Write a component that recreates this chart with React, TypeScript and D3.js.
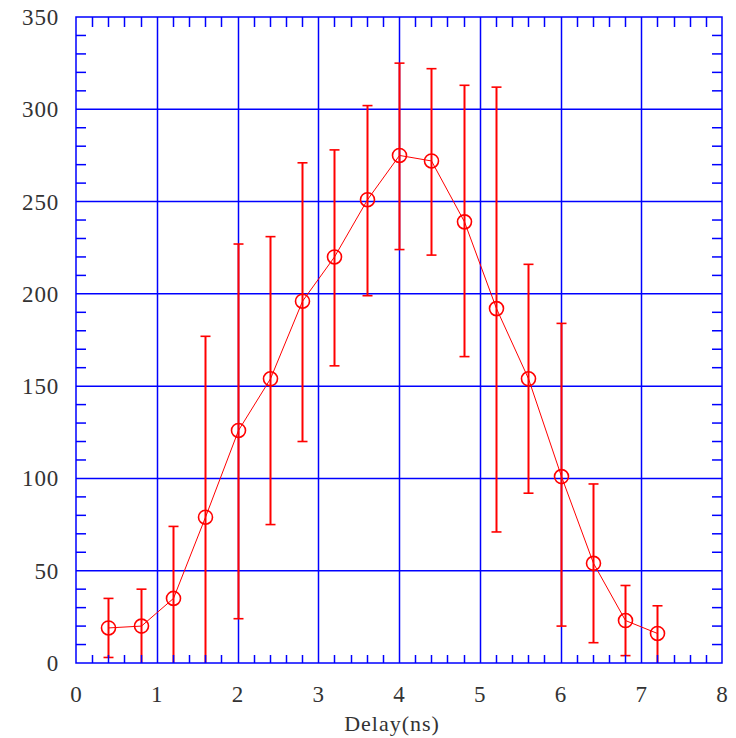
import React from "react";
import * as d3 from "d3";

// delay (ns) and counts
const delays = [0.4, 0.8, 1.2, 1.6, 2.0, 2.4, 2.8, 3.2, 3.6, 4.0, 4.4, 4.8, 5.2, 5.6, 6.0, 6.4, 6.8, 7.2];
const counts = [19, 20, 35, 79, 126, 154, 196, 220, 251, 275, 272, 239, 192, 154, 101, 54, 23, 16];
const errHigh = [35, 40, 74, 177, 227, 231, 271, 278, 302, 325, 322, 313, 312, 216, 184, 97, 42, 31];
// bars that run past the axis are given a negative lower end and clipped
const errLow = [3, -20, -20, -20, 24, 75, 120, 161, 199, 224, 221, 166, 71, 92, 20, 11, 4, -20];

const xTicks = [0, 1, 2, 3, 4, 5, 6, 7, 8];
const yTicks = [0, 50, 100, 150, 200, 250, 300, 350];

const App = () => {
    const svgRef = React.useRef<SVGSVGElement>(null);

    React.useEffect(() => {
        drawChart();
    }, []);

    const drawChart = () => {
        if (!svgRef.current) return;

        const left = 76, right = 722, top = 17, bottom = 663;
        const blue = "#0000ff";
        const red = "#ff0000";

        const x = d3.scaleLinear().domain([0, 8]).range([left, right]);
        const y = d3.scaleLinear().domain([0, 350]).range([bottom, top]);
        const px = (v: number) => Math.round(x(v)) + 0.5;

        const svg = d3.select(svgRef.current);
        svg.selectAll("*").remove();

        svg.append("defs")
            .append("clipPath")
            .attr("id", "plot-clip")
            .append("rect")
            .attr("x", left)
            .attr("y", top)
            .attr("width", right - left)
            .attr("height", bottom - top);

        // grid
        const grid = svg.append("g").attr("stroke", blue).attr("stroke-width", 1.5);
        grid.selectAll("line.gx")
            .data(xTicks.slice(1, -1))
            .join("line")
            .attr("x1", d => px(d)).attr("x2", d => px(d))
            .attr("y1", top).attr("y2", bottom);
        grid.selectAll("line.gy")
            .data(yTicks.slice(1, -1))
            .join("line")
            .attr("class", "gy")
            .attr("x1", left).attr("x2", right)
            .attr("y1", d => y(d)).attr("y2", d => y(d));

        // data
        const idx = d3.range(delays.length);
        const data = svg.append("g").attr("clip-path", "url(#plot-clip)");

        data.append("g")
            .attr("stroke", red)
            .attr("stroke-width", 2)
            .selectAll("line")
            .data(idx)
            .join("line")
            .attr("x1", i => px(delays[i])).attr("x2", i => px(delays[i]))
            .attr("y1", i => y(errLow[i])).attr("y2", i => y(errHigh[i]));

        const caps = data.append("g").attr("stroke", red).attr("stroke-width", 1.6);
        [errLow, errHigh].forEach(arr => {
            caps.append("g")
                .selectAll("line")
                .data(idx.filter(i => arr[i] > 0))
                .join("line")
                .attr("x1", i => px(delays[i]) - 5).attr("x2", i => px(delays[i]) + 5)
                .attr("y1", i => y(arr[i])).attr("y2", i => y(arr[i]));
        });

        const line = d3.line<number>().x(i => px(delays[i])).y(i => y(counts[i]));
        data.append("path")
            .datum(idx)
            .attr("fill", "none")
            .attr("stroke", red)
            .attr("stroke-width", 1)
            .attr("d", line);

        data.append("g")
            .selectAll("circle")
            .data(idx)
            .join("circle")
            .attr("cx", i => px(delays[i]))
            .attr("cy", i => y(counts[i]))
            .attr("r", 7)
            .attr("fill", "none")
            .attr("stroke", red)
            .attr("stroke-width", 1.6);

        // ticks, mirrored on all four sides, pointing inward
        const ticks = svg.append("g").attr("stroke", blue).attr("stroke-width", 1.5);
        const xMinor = d3.range(0, 8.001, 0.2).filter(v => Math.abs(v - Math.round(v)) > 0.01);
        const yMinor = d3.range(0, 350.001, 10).filter(v => v % 50 !== 0);
        ticks.selectAll("line.xb")
            .data(xMinor)
            .join("line")
            .attr("class", "xb")
            .attr("x1", d => px(d)).attr("x2", d => px(d))
            .attr("y1", bottom).attr("y2", bottom - 8);
        ticks.selectAll("line.xt")
            .data(xMinor)
            .join("line")
            .attr("class", "xt")
            .attr("x1", d => px(d)).attr("x2", d => px(d))
            .attr("y1", top).attr("y2", top + 10);
        ticks.selectAll("line.yl")
            .data(yMinor)
            .join("line")
            .attr("class", "yl")
            .attr("x1", left).attr("x2", left + 10)
            .attr("y1", d => y(d)).attr("y2", d => y(d));
        ticks.selectAll("line.yr")
            .data(yMinor)
            .join("line")
            .attr("class", "yr")
            .attr("x1", right).attr("x2", right - 10)
            .attr("y1", d => y(d)).attr("y2", d => y(d));

        // frame
        svg.append("rect")
            .attr("x", left).attr("y", top)
            .attr("width", right - left).attr("height", bottom - top)
            .attr("fill", "none")
            .attr("stroke", blue)
            .attr("stroke-width", 1.5);

        // labels
        const labels = svg.append("g")
            .attr("font-family", "'Liberation Serif', 'DejaVu Serif', serif")
            .attr("font-size", 23)
            .attr("fill", "#333");
        labels.selectAll("text.yl")
            .data(yTicks)
            .join("text")
            .attr("class", "yl")
            .attr("x", 59)
            .attr("y", d => y(d))
            .attr("dy", "0.35em")
            .attr("text-anchor", "end")
            .attr("letter-spacing", 0.8)
            .text(d => d);
        labels.selectAll("text.xl")
            .data(xTicks)
            .join("text")
            .attr("class", "xl")
            .attr("x", d => x(d))
            .attr("y", 702)
            .attr("text-anchor", "middle")
            .text(d => d);
        labels.append("text")
            .attr("x", 392)
            .attr("y", 731)
            .attr("text-anchor", "middle")
            .attr("font-size", 22)
            .attr("letter-spacing", 1)
            .text("Delay(ns)");
    };

    return (
        <svg
            ref={svgRef}
            width={736}
            height={738}
            style={{ position: "absolute", left: 0, top: 0, background: "#fff" }}
        />
    );
};

export default App;
